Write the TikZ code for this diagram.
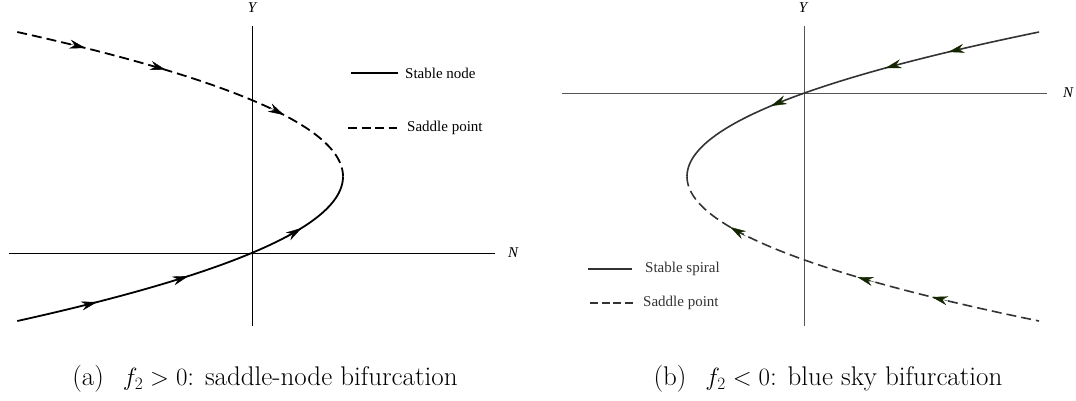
\documentclass[tikz,border=0pt]{standalone}
\usepackage{fontspec}
\newfontfamily\tms{Liberation Serif}
\usetikzlibrary{arrows.meta}
\definecolor{arrgreen}{HTML}{142600}
\definecolor{darkline}{HTML}{333333}
\definecolor{axisgray}{HTML}{555555}
\tikzset{
  axisL/.style={line width=0.8pt, black},
  axisR/.style={line width=0.8pt, axisgray},
  curveL/.style={line width=1.8pt, black},
  curveR/.style={line width=1.6pt, darkline},
  dashpat/.style={dash pattern=on 10pt off 5pt},
  tipL/.style={-{Stealth[length=16pt,width=9pt]}, line width=0.4pt, black},
  tipR/.style={-{Stealth[length=16pt,width=9pt,color=arrgreen]}, line width=0.4pt, darkline},
  lbl/.style={font=\tms\itshape\fontsize{15}{17}\selectfont, inner sep=0pt},
  leg/.style={font=\tms\fontsize{15}{18}\selectfont, anchor=west, inner sep=0pt},
  captext/.style={font=\fontsize{27}{31}\selectfont, inner sep=0pt}
}
\begin{document}
\begin{tikzpicture}[x=1pt,y=-1pt]
\useasboundingbox (0,0) rectangle (1076,400);

% ---------- left panel ----------
\coordinate (LYt) at (252,26);
\coordinate (LYb) at (252,326);
\coordinate (LNl) at (9,253);
\coordinate (LNr) at (495,253);
\draw[axisL] (LYt) -- (LYb);
\draw[axisL] (LNl) -- (LNr);
\node[lbl] (LY) at (252,8) {Y};
\node[lbl] (LN) at (513,253) {N};

\draw[curveL,dashpat] plot[domain=32:176.5, samples=80, variable=\t]
  ({343-1.56*((\t-176.5)/10)*((\t-176.5)/10)},\t);
\draw[curveL] plot[domain=176.5:321, samples=80, variable=\t]
  ({343-1.56*((\t-176.5)/10)*((\t-176.5)/10)},\t);

\foreach \yy/\s in {48/1,70/1,115/1,302/-1,276/-1,228/-1}{
  \pgfmathsetmacro\xx{343-1.56*((\yy-176.5)/10)*((\yy-176.5)/10)}
  \pgfmathsetmacro\dd{-2*0.0156*(\yy-176.5)}
  \pgfmathsetmacro\nn{sqrt(\dd*\dd+1)}
  \draw[tipL] ({\xx-\s*\dd*18/\nn},{\yy-\s*18/\nn}) -- (\xx,\yy);
}

\coordinate (LL1a) at (351,73); \coordinate (LL1b) at (398,73);
\coordinate (LL2a) at (348,128); \coordinate (LL2b) at (397,128);
\draw[curveL] (LL1a) -- (LL1b);
\draw[curveL,dash pattern=on 9pt off 4.5pt] (LL2a) -- (LL2b);
\node[leg] (LT1) at (405,73) {Stable node};
\node[leg] (LT2) at (407,128) {Saddle point};

% ---------- right panel ----------
\coordinate (RYt) at (804,26);
\coordinate (RYb) at (804,326);
\coordinate (RNl) at (562,93);
\coordinate (RNr) at (1047,93);
\draw[axisR] (RYt) -- (RYb);
\draw[axisR] (RNl) -- (RNr);
\node[lbl] (RY) at (803,8) {Y};
\node[lbl] (RN) at (1068,93) {N};

\draw[curveR] plot[domain=32:176.5, samples=80, variable=\t]
  ({687+1.686*((\t-176.5)/10)*((\t-176.5)/10)},\t);
\draw[curveR,dashpat] plot[domain=176.5:321, samples=80, variable=\t]
  ({687+1.686*((\t-176.5)/10)*((\t-176.5)/10)},\t);

\foreach \yy/\s in {52/1,68/1,106/1,297/-1,277/-1,227/-1}{
  \pgfmathsetmacro\xx{687+1.686*((\yy-176.5)/10)*((\yy-176.5)/10)}
  \pgfmathsetmacro\dd{2*0.01686*(\yy-176.5)}
  \pgfmathsetmacro\nn{sqrt(\dd*\dd+1)}
  \draw[tipR] ({\xx-\s*\dd*18/\nn},{\yy-\s*18/\nn}) -- (\xx,\yy);
}

\coordinate (RL1a) at (588,269); \coordinate (RL1b) at (632,269);
\coordinate (RL2a) at (590,303); \coordinate (RL2b) at (633,303);
\draw[curveR] (RL1a) -- (RL1b);
\draw[curveR,dash pattern=on 8pt off 3.7pt] (RL2a) -- (RL2b);
\node[leg,text=darkline] (RT1) at (645,269) {Stable spiral};
\node[leg,text=darkline] (RT2) at (643,303) {Saddle point};

% ---------- captions ----------
\node[captext] (capa) at (265,379) {(a)\hspace{0.7em}$f_2>0$: saddle-node bifurcation};
\node[captext] (capb) at (828,379) {(b)\hspace{0.7em}$f_2<0$: blue sky bifurcation};
\end{tikzpicture}
\end{document}
